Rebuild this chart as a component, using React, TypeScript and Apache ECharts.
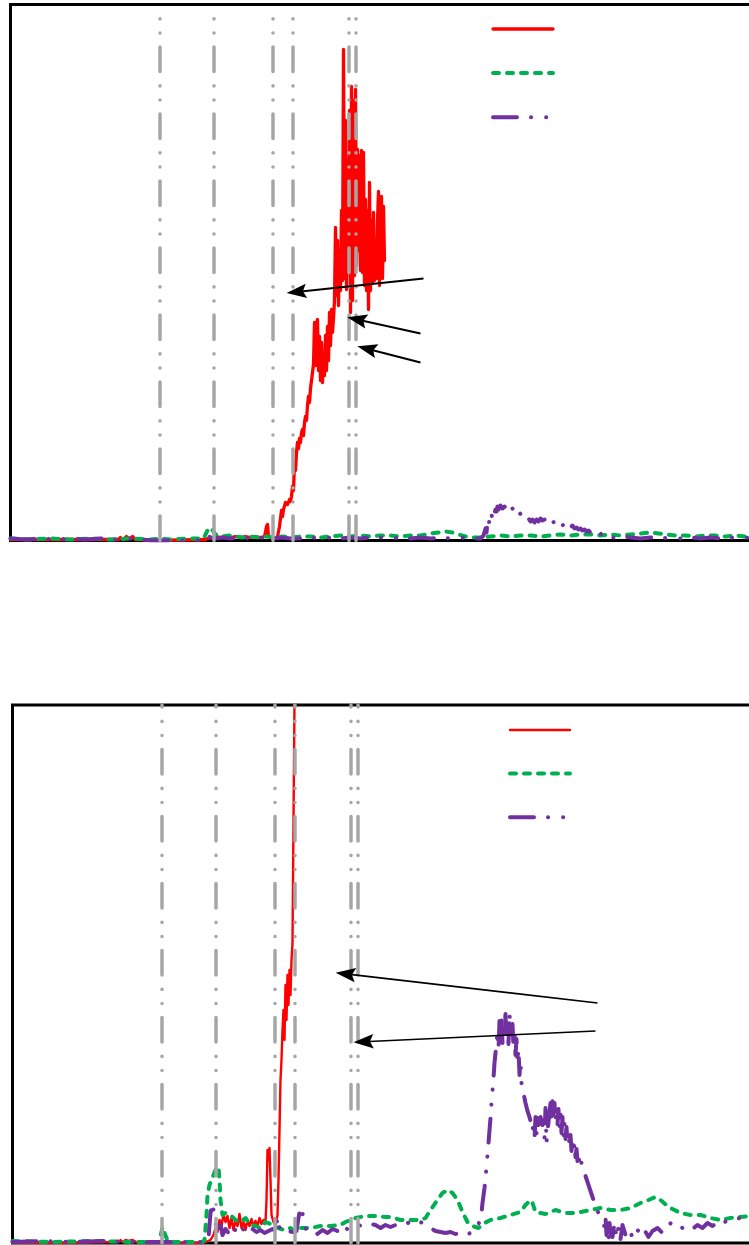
import React, { useEffect, useRef } from "react";
import * as echarts from "echarts";

// ---- axes (arbitrary units) ----
const X_MAX = 780;
const TOP_Y_MAX = 536;
const BOTTOM_Y_MAX = 538;

// vertical event markers (x values)
const eventLines = [149, 203, 262, 282, 338, 345];

// ---- top panel series ----
const topRed: number[][] = [
  [0, 1], [40, 1], [80, 1], [108, 1], [110, 3], [113, 1], [116, 4], [119, 2], [122, 4], [125, 1], [130, 1], [145, 0],
  [195, 1], [200, 3], [203, 2], [206, 4], [210, 3], [215, 4], [220, 3], [225, 4], [230, 3], [235, 4], [240, 3],
  [245, 4], [250, 3], [254, 4], [256, 14], [257, 16], [258, 4], [261, 3], [264, 2], [267, 4],
  [269, 14], [271, 30], [272, 24], [273, 31], [275, 38], [277, 36], [279, 41], [280, 39], [281, 44], [282, 54],
  [283, 50], [284, 78], [285, 70], [286, 88], [287, 98], [288, 92], [289, 102], [290, 98], [291, 108], [292, 111],
  [293, 105], [294, 118], [295, 124], [296, 120], [297, 135], [298, 144], [299, 138], [300, 152], [301, 160],
  [302, 168], [303, 176], [304, 218], [305, 175], [306, 216], [307, 221], [308, 170], [309, 204], [310, 160],
  [311, 198], [312, 158], [313, 184], [314, 165], [315, 205], [316, 170], [317, 214], [318, 180], [319, 228],
  [320, 195], [321, 231], [322, 208], [323, 222], [324, 240], [325, 313], [326, 245], [327, 300], [328, 235],
  [329, 290], [330, 250], [331, 330], [332, 260], [333, 491], [334, 262], [335, 420], [336, 251], [337, 380],
  [338, 270], [339, 430], [340, 228], [341, 454], [342, 240], [343, 440], [344, 265], [345, 451], [346, 275],
  [347, 391], [348, 290], [349, 385], [350, 270], [351, 390], [352, 268], [353, 388], [354, 255], [355, 341],
  [356, 250], [357, 330], [358, 231], [359, 358], [360, 250], [361, 320], [362, 258], [363, 328], [364, 260],
  [365, 300], [366, 262], [367, 320], [368, 349], [369, 255], [370, 330], [371, 344], [372, 262], [373, 334], [374, 280],
];
const topGreen: number[][] = [
  [0, 2], [20, 1], [40, 2], [60, 1], [80, 2], [100, 1], [120, 2], [140, 1], [150, 2], [160, 1], [180, 2], [193, 2],
  [195, 6], [197, 10], [199, 13], [201, 12], [203, 9], [205, 6], [208, 5], [212, 4], [218, 5], [225, 4], [232, 3],
  [240, 4], [248, 3], [256, 4], [264, 3], [272, 4], [280, 3], [290, 4], [300, 4], [310, 3], [320, 4], [330, 5],
  [340, 4], [350, 5], [360, 4], [370, 5], [380, 5], [390, 4], [400, 5], [410, 5], [420, 7], [428, 8], [435, 9],
  [442, 8], [448, 6], [455, 4], [462, 3], [470, 3], [480, 4], [490, 5], [500, 4], [510, 5], [520, 5], [530, 4],
  [540, 5], [550, 6], [560, 5], [570, 6], [580, 6], [590, 5], [600, 6], [610, 5], [620, 6], [630, 7], [640, 8],
  [648, 7], [656, 6], [665, 5], [675, 5], [685, 4], [695, 5], [705, 5], [715, 4], [725, 5], [735, 4], [745, 5],
  [755, 4], [765, 5], [780, 4],
];
const topPurple: number[][] = [
  [0, 2], [15, 1], [30, 2], [45, 1], [60, 2], [75, 1], [90, 2], [105, 1], [120, 2], [132, 1], [140, 0], [190, 0],
  [194, 2], [197, 5], [200, 3], [204, 2], [212, 3], [220, 2], [230, 3], [240, 2], [250, 3], [260, 2], [270, 3],
  [280, 2], [290, 2], [300, 3], [310, 2], [320, 3], [330, 2], [340, 3], [350, 2], [360, 3], [370, 3], [380, 2],
  [390, 3], [400, 2], [410, 3], [420, 2], [430, 3], [440, 2], [450, 3], [460, 2], [470, 2],
  [473, 5], [475, 12], [476, 8], [477, 18], [478, 14], [479, 22], [480, 19], [481, 26], [482, 22], [483, 29],
  [484, 27], [485, 31], [486, 29], [487, 34], [488, 31], [489, 33], [490, 35], [492, 32], [494, 34], [496, 31],
  [498, 34], [500, 30], [502, 32], [504, 28], [506, 30], [508, 25], [510, 27], [512, 23], [514, 24], [516, 21],
  [518, 22], [520, 19], [522, 21], [524, 18], [526, 21], [528, 19], [530, 22], [532, 20], [534, 21], [536, 19],
  [538, 21], [540, 18], [542, 20], [544, 17], [546, 19], [548, 16], [550, 18], [552, 15], [554, 17], [556, 14],
  [558, 16], [560, 13], [562, 15], [564, 12], [566, 13], [568, 11], [570, 12], [572, 10], [574, 11], [576, 9],
  [578, 10], [580, 8], [582, 9], [584, 7], [586, 8], [588, 6], [590, 7], [592, 5], [594, 6], [596, 4], [598, 5],
  [600, 3], [606, 3], [612, 4], [620, 3], [630, 2], [640, 3], [650, 2], [660, 3], [670, 2], [680, 3], [690, 2],
  [700, 3], [710, 2], [720, 3], [730, 2], [740, 3], [750, 2], [765, 3], [780, 2],
];

// ---- bottom panel series ----
const bottomRed: number[][] = [
  [0, 0], [50, 0], [100, 1], [106, 1], [108, 3], [110, 1], [113, 3], [116, 2], [120, 3], [124, 1], [126, 0],
  [160, 0], [165, 2], [167, 0], [190, 0], [193, 1], [198, 3], [201, 8], [203, 15], [205, 11], [207, 23], [209, 17],
  [211, 29], [213, 21], [215, 27], [217, 15], [219, 25], [221, 13], [223, 23], [225, 17], [227, 29], [229, 15],
  [231, 21], [233, 13], [235, 23], [237, 17], [239, 24], [241, 16], [243, 22], [245, 17], [247, 25], [249, 19],
  [251, 23], [253, 21], [254, 43], [255, 93], [256, 83], [257, 95], [258, 63], [259, 28], [261, 21], [263, 18],
  [265, 28], [266, 63], [267, 113], [268, 163], [269, 183], [270, 213], [271, 233], [272, 203], [273, 258],
  [274, 223], [275, 268], [276, 238], [277, 273], [278, 248], [279, 283], [280, 300], [281, 420], [282, 540], [284, 660],
];
const bottomGreen: number[][] = [
  [0, 2], [40, 1], [80, 2], [120, 1], [146, 1], [148, 6], [150, 16], [152, 10], [154, 5], [156, 1], [190, 1],
  [192, 3], [194, 28], [195, 48], [197, 58], [199, 63], [201, 68], [203, 73], [204, 75], [206, 76], [207, 63],
  [208, 43], [210, 28], [213, 30], [218, 28], [223, 23], [228, 21], [233, 25], [238, 18], [243, 17], [248, 15],
  [253, 21], [258, 19], [263, 16], [268, 14], [273, 13], [278, 15], [283, 11], [288, 15], [298, 15], [308, 17],
  [318, 17], [328, 18], [333, 21], [338, 23], [343, 25], [353, 27], [363, 27], [373, 26], [378, 26], [388, 23],
  [398, 23], [408, 23], [413, 25], [418, 33], [425, 43], [430, 50], [435, 53], [440, 50], [445, 43], [450, 31],
  [455, 21], [460, 17], [466, 15], [472, 20], [478, 23], [488, 25], [498, 28], [508, 31], [513, 38], [518, 43],
  [520, 40], [523, 31], [533, 29], [543, 33], [553, 30], [563, 30], [578, 33], [588, 35], [598, 33], [608, 33],
  [618, 35], [628, 40], [636, 43], [643, 46], [648, 43], [656, 36], [668, 30], [678, 28], [688, 28], [698, 25],
  [708, 23], [718, 25], [728, 26], [737, 27], [760, 26], [780, 27],
];
const bottomPurple: number[][] = [
  [0, 1], [30, 2], [60, 1], [90, 2], [120, 1], [148, 1], [192, 1], [196, 5], [198, 30], [200, 40], [202, 25],
  [204, 15], [206, 10], [208, 18], [210, 8], [213, 14], [216, 10], [219, 16], [222, 12], [225, 17], [228, 11],
  [232, 15], [236, 10], [240, 14], [244, 11], [248, 13], [252, 10], [256, 12], [260, 14], [263, 11], [265, 26],
  [266, 20], [268, 12], [272, 11], [276, 12], [280, 11], [284, 12], [286, 25], [288, 36], [290, 30], [292, 16],
  [296, 11], [300, 12], [305, 9], [310, 13], [315, 10], [320, 14], [325, 12], [330, 18], [333, 15], [338, 12],
  [345, 17], [350, 18], [355, 20], [363, 18], [368, 15], [373, 18], [378, 16], [383, 18], [393, 18], [398, 22],
  [403, 24], [408, 21], [413, 18], [418, 15], [423, 12], [428, 11], [433, 10], [438, 11], [443, 9], [448, 10],
  [453, 8], [458, 10], [463, 12], [465, 15], [467, 22], [469, 30], [470, 40], [472, 55], [473, 65], [475, 88],
  [476, 100], [478, 125], [479, 140], [481, 165], [482, 180], [483, 190],
  [484, 200], [485, 212], [486, 194], [487, 222], [488, 204], [489, 226], [490, 200], [491, 218], [492, 208],
  [493, 229], [494, 203], [495, 221], [496, 199], [497, 230], [498, 210], [499, 205], [500, 219], [501, 196],
  [502, 213], [503, 188], [504, 204], [505, 180], [506, 194], [507, 168], [508, 182], [509, 160], [511, 150],
  [513, 140], [515, 132], [517, 126], [519, 118], [520, 112], [521, 122], [522, 104], [523, 126], [524, 108],
  [525, 130], [526, 118], [528, 126], [530, 118], [531, 128], [532, 105], [533, 135], [534, 100], [535, 112],
  [537, 130], [538, 140], [539, 126], [540, 144], [541, 128], [542, 140], [543, 122], [544, 136], [545, 118],
  [546, 134], [547, 114], [548, 130], [549, 110], [550, 126], [551, 106], [552, 120], [553, 104], [554, 116],
  [555, 100], [556, 112], [557, 96], [558, 108], [559, 92], [560, 104], [561, 90], [562, 100], [563, 86],
  [564, 94], [565, 82], [566, 90], [567, 78], [568, 84], [570, 76], [572, 70], [574, 64], [576, 58], [578, 52],
  [580, 46], [582, 40], [584, 34], [586, 30], [588, 26], [590, 22], [592, 16], [593, 26], [594, 8], [595, 24],
  [596, 4], [597, 20], [598, 10], [600, 6], [602, 20], [604, 5], [606, 16], [608, 4], [610, 18], [613, 8],
  [616, 14], [620, 6], [624, 15], [628, 8], [632, 13], [636, 6], [640, 12],
  [645, 15], [650, 10], [655, 16], [660, 22], [665, 18], [670, 15], [675, 17], [680, 14], [685, 18], [690, 15],
  [695, 20], [700, 17], [705, 21], [710, 19], [715, 23], [720, 22], [725, 25], [730, 24], [737, 25], [760, 24], [780, 25],
];

// annotation arrows: [tail, head] in data units
const topArrows: number[][][] = [
  [[413, 262], [286, 248.6]],
  [[410, 207], [346.5, 221.1]],
  [[410, 178], [356.5, 191.8]],
];
const bottomArrows: number[][][] = [
  [[585, 240], [333, 269.1]],
  [[583, 212], [351, 201.3]],
];

const RED = "#ff0000";
const GREEN = "#00b050";
const PURPLE = "#7030a0";
const GRAY = "#a6a6a6";
const DASH_DOT_DOT = [24.5, 14, 0.1, 14, 0.1, 14.3];
const PURPLE_DASH = [24, 14, 0.1, 15, 0.1, 14];
const GREEN_DASH = [6, 8];
const ARROW_HEAD = "path://M5,0 L10,14 L5,11.5 L0,14 Z";

const CHART_W = 830;

function buildOption() {
  const grids = [
    { left: 10.5, top: 4.5, width: X_MAX, height: TOP_Y_MAX },
    { left: 12.5, top: 705, width: X_MAX, height: BOTTOM_Y_MAX },
  ].map((g) => ({ ...g, show: true, borderColor: "#000", borderWidth: 3, backgroundColor: "transparent", containLabel: false }));

  const hiddenAxis = {
    axisLine: { show: false },
    axisTick: { show: false },
    axisLabel: { show: false },
    splitLine: { show: false },
  };
  const xAxis = [0, 1].map((i) => ({ type: "value", gridIndex: i, min: 0, max: X_MAX, ...hiddenAxis }));
  const yAxis = [0, 1].map((i) => ({ type: "value", gridIndex: i, min: 0, max: i === 0 ? TOP_Y_MAX : BOTTOM_Y_MAX, ...hiddenAxis }));

  const panels = [
    { red: topRed, green: topGreen, purple: topPurple, arrows: topArrows, redW: 3.3, arrowW: 2, suffix: "1" },
    { red: bottomRed, green: bottomGreen, purple: bottomPurple, arrows: bottomArrows, redW: 2.4, arrowW: 1.6, suffix: "2" },
  ];

  const series: any[] = [];
  panels.forEach((p, i) => {
    const base = { type: "line", xAxisIndex: i, yAxisIndex: i, symbol: "none", showSymbol: false, silent: true, clip: true };
    series.push({ ...base, name: "A" + p.suffix, data: p.red, z: 2, lineStyle: { color: RED, width: p.redW, type: "solid", cap: "round", join: "round" }, itemStyle: { color: RED } });
    series.push({ ...base, name: "B" + p.suffix, data: p.green, z: 2, lineStyle: { color: GREEN, width: 4, type: GREEN_DASH, cap: "round", join: "round" }, itemStyle: { color: GREEN } });
    series.push({ ...base, name: "C" + p.suffix, data: p.purple, z: 2, lineStyle: { color: PURPLE, width: 4, type: PURPLE_DASH, cap: "round", join: "round" }, itemStyle: { color: PURPLE } });
    series.push({
      ...base,
      name: "events" + p.suffix,
      data: [],
      z: 4,
      markLine: {
        silent: true,
        symbol: ["none", "none"],
        label: { show: false },
        emphasis: { disabled: true },
        lineStyle: { color: GRAY, width: 3.5, type: DASH_DOT_DOT, cap: "round" },
        data: eventLines.map((v) => ({ xAxis: v })),
      },
    });
    series.push({
      ...base,
      name: "arrows" + p.suffix,
      data: [],
      z: 5,
      markLine: {
        silent: true,
        symbol: ["none", ARROW_HEAD],
        symbolSize: [20, 20],
        symbolKeepAspect: true,
        label: { show: false },
        emphasis: { disabled: true },
        itemStyle: { color: "#000" },
        lineStyle: { color: "#000", width: p.arrowW, type: "solid" },
        data: p.arrows.map(([a, b]) => [{ coord: a }, { coord: b }]),
      },
    });
  });

  const legendBase = {
    orient: "vertical",
    itemHeight: 14,
    selectedMode: false,
    formatter: () => "",
    itemStyle: { opacity: 0 },
    lineStyle: { width: "inherit" },
    textStyle: { fontSize: 1 },
    padding: 0,
  };

  return {
    animation: false,
    legend: [
      { ...legendBase, left: 491, top: 22, itemWidth: 60, itemGap: 31.5, data: ["A1", "B1", "C1"] },
      { ...legendBase, left: 508, top: 723, itemWidth: 60, itemGap: 31, data: ["A2", "B2", "C2"] },
    ],
    grid: grids,
    xAxis,
    yAxis,
    series,
  };
}

export default function App() {
  const ref = useRef<HTMLDivElement>(null);
  useEffect(() => {
    if (!ref.current) return;
    const chart = echarts.init(ref.current, null, { renderer: "svg" });
    chart.setOption(buildOption() as any);
    return () => chart.dispose();
  }, []);
  return (
    <div
      style={{ position: "absolute", left: 0, top: 0, width: 749, height: 1245, overflow: "hidden", background: "#fff" }}
    >
      <div ref={ref} style={{ width: CHART_W, height: 1245 }} />
    </div>
  );
}
